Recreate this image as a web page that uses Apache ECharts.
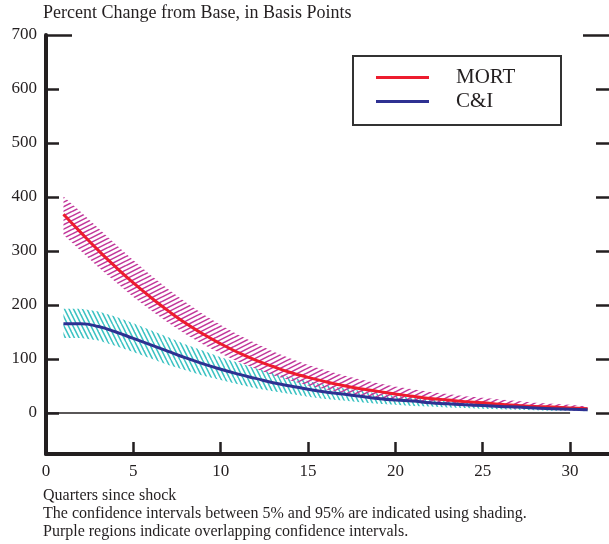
<!DOCTYPE html>
<html><head><meta charset="utf-8">
<script src="https://cdn.jsdelivr.net/npm/echarts@6/dist/echarts.min.js"></script>
<style>html,body{margin:0;padding:0;background:#fff}#c{width:609px;height:544px}</style>
</head><body><div id="c"></div>
<script>
const quarters = [1,2,3,4,5,6,7,8,9,10,11,12,13,14,15,16,17,18,19,20,21,22,23,24,25,26,27,28,29,30,31];
const mort      = [368,334,301,270,241,214,189,166,146,128,112,98,86,75,66,58,51,45,40,35,31,27,24,21,19,16,14,12,11,9,8];
const mortUpper = [401,372,342,312,283,255,229,205,183,163,145,129,114,101,89,79,70,62,55,49,44,39,35,31,28,25,22,19,17,15,12];
const mortLower = [330,300,270,242,215,190,167,146,127,110,95,82,70,60,51,44,37,32,27,23,20,17,15,13,11,10,8,7,6,5,4];
const ci        = [165,165,160,150,138,126,114,102,91,81,72,64,56,50,44,39,35,31,27,24,22,19,17,15,14,12,11,9,8,7,6];
const ciUpper   = [193,193,188,178,166,153,140,127,115,103,93,83,74,66,59,52,46,41,36,32,29,26,23,21,19,17,15,13,12,11,10];
const ciLower   = [139,139,134,124,113,101,89,79,69,61,53,46,40,35,30,26,23,20,17,15,13,12,10,9,8,7,6,5,4,4,3];
const yTicks = [0,100,200,300,400,500,600,700];
const xTicks = [0,5,10,15,20,25,30];
const zeroLine = [[0,0],[30,0]];
const seriesNames = ['MORT','C&I'];
const titleText = 'Percent Change from Base, in Basis Points';
const notes = ['Quarters since shock','The confidence intervals between 5% and 95% are indicated using shading.','Purple regions indicate overlapping confidence intervals.'];

function hatch(color, steep, rising, lw){
  const c = document.createElement('canvas');
  const W = steep ? 9 : 18, H = steep ? 18 : 9;
  c.width = W; c.height = H;
  const g = c.getContext('2d');
  g.strokeStyle = color; g.lineWidth = lw; g.lineCap = 'butt';
  for (const o of [-9,-4.5,0,4.5,9]) {
    g.beginPath();
    if (!steep) {
      if (rising) { g.moveTo(0, H - o); g.lineTo(W, -o); }
      else { g.moveTo(0, o); g.lineTo(W, H + o); }
    } else {
      if (rising) { g.moveTo(W - o, 0); g.lineTo(-o, H); }
      else { g.moveTo(o, 0); g.lineTo(W + o, H); }
    }
    g.stroke();
  }
  return {image: c, repeat: 'repeat'};
}
const pair = (xs, ys) => xs.map((x,i)=>[x, ys[i]]);
function bandSeries(name, lower, upper, fill, z){
  return {type:'custom', name:name, silent:true, z:z,
    data: quarters.map((x,i)=>[x, lower[i], upper[i]]),
    encode:{x:0, y:[1,2]},
    renderItem:function(params, api){
      if (params.dataIndex !== 0) return null;
      const pts = [];
      for (let i = 0; i < quarters.length; i++) pts.push(api.coord([quarters[i], upper[i]]));
      for (let i = quarters.length - 1; i >= 0; i--) pts.push(api.coord([quarters[i], lower[i]]));
      return {type:'polygon', shape:{points:pts}, style:{fill:fill, stroke:null}};
    }};
}
const FONT = 'Liberation Serif';
const TXT = '#231f20';
const AX = '#231f20';

const yBase = {type:'value', min:-76, max:700, splitLine:{show:false}};
const chart = echarts.init(document.getElementById('c'), null, {renderer:'canvas'});
chart.setOption({
  animation:false,
  backgroundColor:'#fff',
  title:{text:titleText, left:43, top:4, padding:0, textStyle:{fontFamily:FONT, fontSize:18, fontWeight:'normal', color:TXT}},
  graphic: notes.map((t,i)=>({type:'text', left:43, top:488 + i*18, style:{text:t, font:'16px "Liberation Serif"', fill:TXT}})),
  legend:{
    data:[{name:seriesNames[0]},{name:seriesNames[1]}],
    orient:'vertical', left:353, top:56,
    icon:'rect', itemWidth:53, itemHeight:3, itemGap:3,
    padding:[11,25,13,23],
    borderColor:'#333', borderWidth:2,
    textStyle:{fontFamily:FONT, fontSize:21, color:TXT, lineHeight:20, width:80, padding:[0,0,0,22]}
  },
  grid:{left:46, width:566, top:35, bottom:90, outerBoundsMode:'none', containLabel:false},
  xAxis:{type:'value', min:0, max:32.4, splitLine:{show:false},
    axisLine:{onZero:false, lineStyle:{color:AX, width:4}},
    axisTick:{inside:true, length:12, customValues:xTicks, lineStyle:{color:AX, width:2.5}},
    axisLabel:{customValues:xTicks, margin:9, fontFamily:FONT, fontSize:17, color:TXT}},
  yAxis:[
    Object.assign({}, yBase, {position:'left',
      axisLine:{show:true, lineStyle:{color:AX, width:4}},
      axisTick:{show:true, inside:true, length:13, customValues:yTicks, lineStyle:{color:AX, width:2.5}},
      axisLabel:{customValues:yTicks, margin:9, fontFamily:FONT, fontSize:17, color:TXT}}),
    Object.assign({}, yBase, {position:'left',
      axisLine:{show:false}, axisLabel:{show:false},
      axisTick:{show:true, inside:true, length:26, customValues:[700], lineStyle:{color:AX, width:2.5}}}),
    Object.assign({}, yBase, {position:'right',
      axisLine:{show:true, lineStyle:{color:AX, width:4}}, axisLabel:{show:false},
      axisTick:{show:true, inside:true, length:16, customValues:yTicks, lineStyle:{color:AX, width:2.5}}}),
    Object.assign({}, yBase, {position:'right',
      axisLine:{show:false}, axisLabel:{show:false},
      axisTick:{show:true, inside:true, length:29, customValues:[700], lineStyle:{color:AX, width:2.5}}})
  ],
  series:[
    {type:'line', name:'zero', data:zeroLine, symbol:'none', silent:true, lineStyle:{color:AX, width:1.6}, z:1},
    bandSeries('ciBand', ciLower, ciUpper, hatch('#3cc3c3', true, false, 1.5), 2),
    bandSeries('mortBand', mortLower, mortUpper, hatch('#c2379b', false, true, 1.5), 3),
    {type:'line', name:seriesNames[0], data:pair(quarters, mort), symbol:'none', smooth:true, lineStyle:{color:'#ed1c2e', width:3}, itemStyle:{color:'#ed1c2e'}, z:4},
    {type:'line', name:seriesNames[1], data:pair(quarters, ci), symbol:'none', smooth:true, lineStyle:{color:'#2e3192', width:3}, itemStyle:{color:'#2e3192'}, z:5}
  ]
});
</script></body></html>
